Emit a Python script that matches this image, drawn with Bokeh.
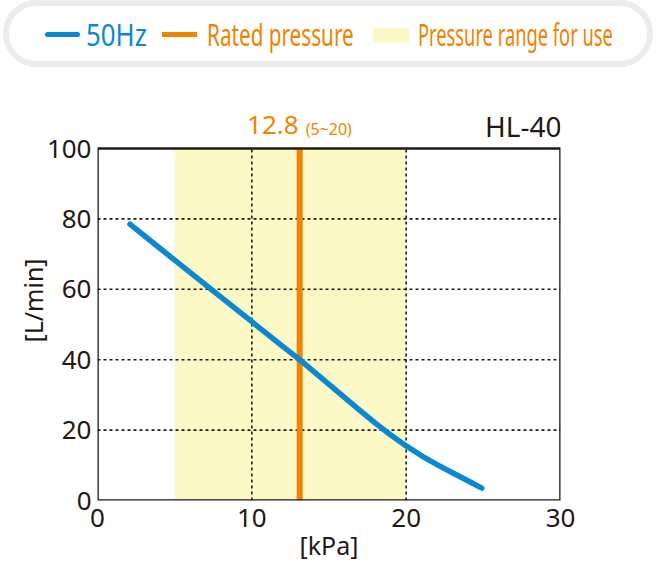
from bokeh.plotting import figure
from bokeh.models import Range1d, Label, FixedTicker, Div
from bokeh.layouts import column
from bokeh.embed import file_html
from bokeh.resources import INLINE

# ---- data ----
pressure = [2.1, 4.0, 6.0, 8.0, 10.0, 12.0, 13.1, 14.0, 15.0, 16.0, 17.0, 18.0, 19.0, 20.0, 21.0, 22.0, 23.0, 24.0, 24.9]
flow = [78.5, 71.8, 64.8, 57.8, 50.8, 43.8, 40.0, 36.7, 33.0, 29.3, 25.6, 22.0, 18.6, 15.5, 12.7, 10.2, 7.9, 5.6, 3.5]
rated_pressure = 13.1
rated_text = "12.8"
range_text = "(5~20)"
use_range = [5, 20]
x_ticks = [0, 10, 20, 30]
y_ticks = [0, 20, 40, 60, 80, 100]
grid_x = [10, 20]
grid_y = [20, 40, 60, 80]
model_name = "HL-40"
legend_labels = ["50Hz", "Rated pressure", "Pressure range for use"]

BLUE = "#0a88d0"
ORANGE = "#f08300"
YELLOW = "#fdf9c6"
DARK = "#231815"
FONT = "Noto Sans"

PAGE_W = 657
LEG_H = 72

# ---- legend (HTML) ----
legend_html = f"""
<div style="position:relative;width:{PAGE_W}px;height:{LEG_H}px;font-family:'Noto Sans';">
  <div style="position:absolute;left:3px;top:0px;width:650px;height:67px;box-sizing:border-box;
       border:6.5px solid #ececec;border-radius:34px;background:white;"></div>
  <div style="position:absolute;left:45px;top:31.5px;width:35px;height:5px;background:{BLUE};border-radius:2.5px;"></div>
  <span style="position:absolute;left:86px;top:20.4px;font-size:30px;line-height:30px;color:{BLUE};
       white-space:nowrap;transform:scaleX(0.86);transform-origin:0 0;">{legend_labels[0]}</span>
  <div style="position:absolute;left:162px;top:31.5px;width:35px;height:5px;background:{ORANGE};"></div>
  <span style="position:absolute;left:207px;top:20.4px;font-size:30px;line-height:30px;color:{ORANGE};
       white-space:nowrap;transform:scaleX(0.69);transform-origin:0 0;">{legend_labels[1]}</span>
  <div style="position:absolute;left:373px;top:28px;width:36px;height:15px;background:{YELLOW};"></div>
  <span style="position:absolute;left:418px;top:20.4px;font-size:30px;line-height:30px;color:{ORANGE};
       white-space:nowrap;transform:scaleX(0.61);transform-origin:0 0;">{legend_labels[2]}</span>
</div>
"""
leg = Div(text=legend_html, width=PAGE_W, height=LEG_H, margin=(0, 0, 0, 0))

# ---- main chart ----
frame_top_page = 100      # page y of the frame top
plot_top_page = 148       # page y of value 100
plot_bottom_page = 500    # page y of value 0
y_end = y_ticks[-1] * (plot_bottom_page - frame_top_page) / (plot_bottom_page - plot_top_page)

p = figure(width=PAGE_W, height=564 - LEG_H,
           x_range=Range1d(x_ticks[0], x_ticks[-1]), y_range=Range1d(y_ticks[0], y_end),
           output_backend="svg", toolbar_location=None,
           min_border_left=97, min_border_right=97,
           min_border_top=frame_top_page - LEG_H, min_border_bottom=564 - plot_bottom_page,
           margin=(0, 0, 0, 0))
p.outline_line_color = None
p.grid.visible = False
p.background_fill_color = "white"
p.border_fill_color = "white"

p.quad(left=[use_range[0]], right=[use_range[1]], bottom=[y_ticks[0]], top=[y_ticks[-1]],
       fill_color=YELLOW, line_color=None)
for gx in grid_x:
    p.segment(x0=[gx], y0=[y_ticks[0]], x1=[gx], y1=[y_ticks[-1]], line_color=DARK,
              line_width=1.6, line_dash="3 3")
for gy in grid_y:
    p.segment(x0=[x_ticks[0]], y0=[gy], x1=[x_ticks[-1]], y1=[gy], line_color=DARK,
              line_width=1.6, line_dash="3 3")
p.segment(x0=[rated_pressure], y0=[y_ticks[0]], x1=[rated_pressure], y1=[y_ticks[-1]],
          line_color=ORANGE, line_width=6)
p.line(pressure, flow, line_color=BLUE, line_width=5.5, line_cap="round", line_join="round")
p.quad(left=[x_ticks[0]], right=[x_ticks[-1]], bottom=[y_ticks[0]], top=[y_ticks[-1]],
       fill_color=None, line_color=DARK, line_width=2.6)

for ax in (p.xaxis[0], p.yaxis[0]):
    ax.axis_line_color = None
    ax.major_tick_line_color = None
    ax.minor_tick_line_color = None
    ax.major_tick_in = 0
    ax.major_tick_out = 0
    ax.minor_tick_in = 0
    ax.minor_tick_out = 0
    ax.major_label_text_font = FONT
    ax.major_label_text_font_size = "26px"
    ax.major_label_text_color = DARK
    ax.axis_label_text_font = FONT
    ax.axis_label_text_font_size = "25px"
    ax.axis_label_text_color = DARK
    ax.axis_label_text_font_style = "normal"
p.xaxis[0].ticker = FixedTicker(ticks=x_ticks)
p.yaxis[0].ticker = FixedTicker(ticks=y_ticks)
p.xaxis[0].axis_label = "[kPa]"
p.yaxis[0].axis_label = "[L/min]"
p.xaxis[0].major_label_standoff = 8
p.xaxis[0].axis_label_standoff = -2
p.yaxis[0].major_label_standoff = 6
p.yaxis[0].axis_label_standoff = -6

p.add_layout(Label(x=x_ticks[-1], y=y_ticks[-1], x_offset=1, y_offset=23, text=model_name,
                   text_font=FONT, text_font_size="28px", text_color=DARK,
                   text_align="right", text_baseline="alphabetic"))
p.add_layout(Label(x=rated_pressure, y=y_ticks[-1], x_offset=-1, y_offset=24, text=rated_text,
                   text_font=FONT, text_font_size="26px", text_color=ORANGE,
                   text_align="right", text_baseline="alphabetic"))
p.add_layout(Label(x=rated_pressure, y=y_ticks[-1], x_offset=6, y_offset=20, text=range_text,
                   text_font=FONT, text_font_size="16px", text_color=ORANGE,
                   text_align="left", text_baseline="alphabetic"))

layout = column(leg, p, spacing=0)
open("out.html", "w").write(file_html(layout, INLINE))
